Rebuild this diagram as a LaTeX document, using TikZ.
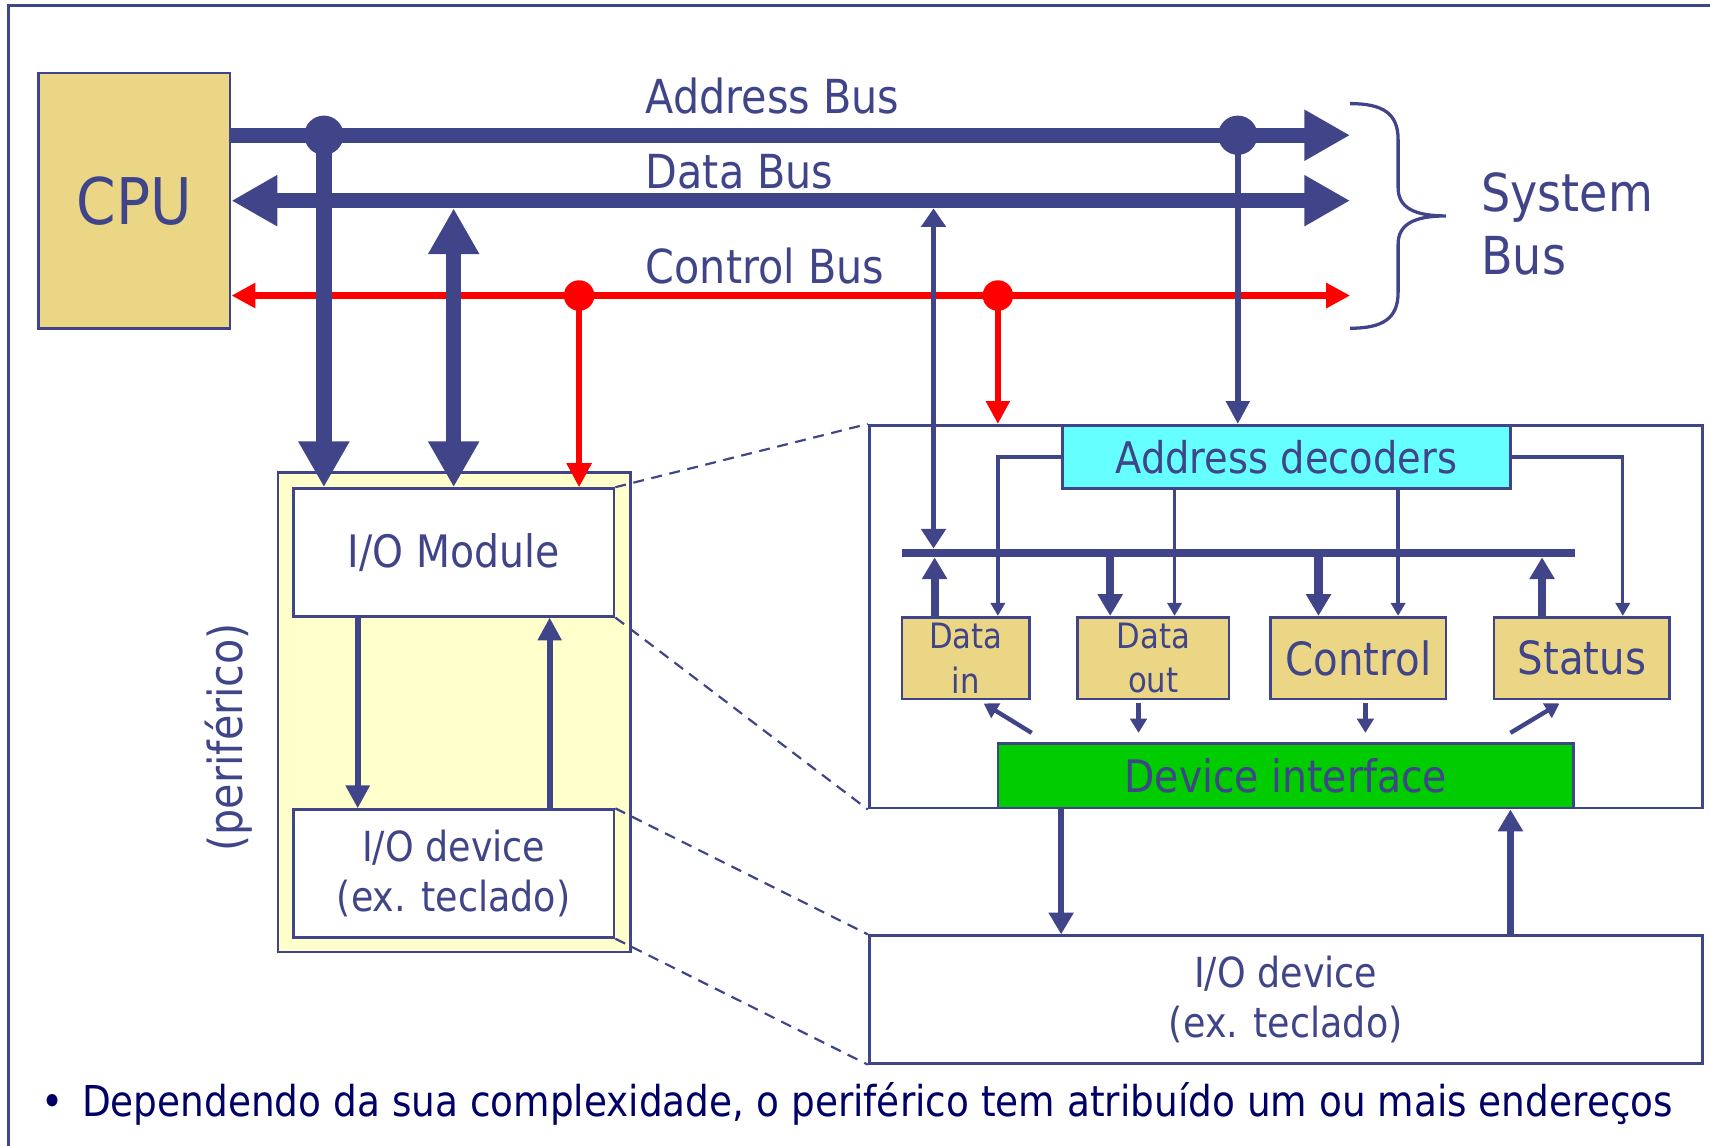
\documentclass[tikz,border=0pt]{standalone}
\usepackage{fontspec}
\setmainfont{DejaVu Sans}[FakeStretch=0.88]
\usetikzlibrary{arrows.meta}
\definecolor{ibl}{RGB}{64,68,137}
\definecolor{cpuy}{RGB}{235,214,134}
\definecolor{pery}{RGB}{255,255,204}
\definecolor{decc}{RGB}{102,255,255}
\definecolor{dig}{RGB}{0,204,0}
\definecolor{navyt}{RGB}{0,0,102}
\newcommand{\fsz}[2]{\fontsize{#1pt}{#2pt}\selectfont}
\tikzset{
  TBig/.tip={Triangle[length=42pt,width=44pt]},
  TRed/.tip={Triangle[length=22pt,width=22pt]},
  TMid/.tip={Triangle[length=20pt,width=22pt]},
  TSm/.tip={Triangle[length=12pt,width=13pt]},
  TDi/.tip={Triangle[length=13pt,width=15pt]},
}
\begin{document}
\begin{tikzpicture}[x=1pt,y=-1pt,
  bx/.style={draw=ibl, line width=2.5pt, inner sep=0pt, text=ibl, align=center},
  fatbus/.style={draw=ibl, line width=14pt},
  redbus/.style={draw=red, line width=7pt},
  redthin/.style={draw=red, line width=5pt},
  thinbus/.style={draw=ibl, line width=5pt},
  regbus/.style={draw=ibl, line width=7.5pt},
  decline/.style={draw=ibl, line width=3pt},
  diline/.style={draw=ibl, line width=4pt},
  zoomline/.style={draw=ibl, line width=2pt, dash pattern=on 10pt off 7pt},
  bdot/.style={circle, fill=ibl, inner sep=0pt, minimum size=36pt},
  rdot/.style={circle, fill=red, inner sep=0pt, minimum size=28pt},
  lbl/.style={text=ibl, inner sep=0pt},
]
\useasboundingbox (0,0) rectangle (1568,1050);

% outer frame
\draw[ibl, line width=2.5pt] (8,1060) -- (8,5) -- (1580,5);

% CPU
\node[bx, fill=cpuy, minimum width=176pt, minimum height=234pt, font=\fsz{59}{64}] (cpu) at (123,184) {CPU};

% peripheral
\node[bx, fill=pery, minimum width=323pt, minimum height=440pt] (per) at (416.5,653) {};
\node[bx, fill=white, minimum width=294pt, minimum height=117pt, font=\fsz{41}{48}] (iom) at (416,506.5) {I/O Module};
\node[bx, fill=white, minimum width=294pt, minimum height=117pt, font=\fsz{38}{46}] (iod) at (416,801) {I/O device\\(ex. teclado)};
\node[lbl, rotate=90, font=\fsz{43}{50}] (perl) at (210,676) {(periférico)};

% detail box
\node[bx, fill=white, minimum width=764pt, minimum height=351pt] (det) at (1179,565.5) {};
\node[bx, fill=decc, minimum width=411pt, minimum height=58pt, font=\fsz{40}{46}] (dec) at (1179.5,419) {Address decoders};
\node[bx, fill=cpuy, minimum width=117pt, minimum height=75pt, font=\fsz{32}{41}] (din) at (885.5,603.5) {Data\\in};
\node[bx, fill=cpuy, minimum width=139pt, minimum height=75pt, font=\fsz{32}{41}] (dout) at (1057.5,603.5) {Data\\out};
\node[bx, fill=cpuy, minimum width=161pt, minimum height=75pt, font=\fsz{42}{48}] (ctl) at (1245.5,603.5) {Control};
\node[bx, fill=cpuy, minimum width=161pt, minimum height=75pt, font=\fsz{42}{48}] (sta) at (1450.5,603.5) {Status};
\node[bx, fill=dig, minimum width=528pt, minimum height=59pt, font=\fsz{41}{48}] (di) at (1179,711.5) {Device interface};
\node[bx, fill=white, minimum width=764pt, minimum height=117pt, font=\fsz{38}{46}] (iod2) at (1179,916.5) {I/O device\\(ex. teclado)};

% dashed zoom lines
\draw[zoomline] (iom.north east) -- (det.north west);
\draw[zoomline] (iom.south east) -- (det.south west);
\draw[zoomline] (iod.north east) -- (iod2.north west);
\draw[zoomline] (iod.south east) -- (iod2.south west);

% bus ends
\coordinate (abE) at (1238,124);
\coordinate (dbE) at (1238,184);
\coordinate (cbE) at (1238,271);

% system buses
\draw[fatbus, -{TBig}] (cpu.east |- abE) -- (abE);
\draw[fatbus, {TBig}-{TBig}] (cpu.east |- dbE) -- (dbE);
\draw[redbus, {TRed}-{TRed}] (cpu.east |- cbE) -- (cbE);

% labels
\node[lbl, anchor=base west, font=\fsz{43}{50}] (abl) at (592,104) {Address Bus};
\node[lbl, anchor=base west, font=\fsz{43}{50}] (dbl) at (592,173) {Data Bus};
\node[lbl, anchor=base west, font=\fsz{43}{50}] (cbl) at (592,260) {Control Bus};

% brace
\draw[ibl, line width=3pt] (1238,95) .. controls (1268,95) and (1282,104) .. (1282,128) -- (1282,172)
  .. controls (1282,190) and (1296,198) .. (1326,198)
  .. controls (1296,198) and (1282,206) .. (1282,224) -- (1282,268)
  .. controls (1282,292) and (1268,301) .. (1238,301);
\node[lbl, anchor=base west, font=\fsz{48}{58}] (sbl1) at (1358,194) {System};
\node[lbl, anchor=base west, font=\fsz{48}{58}] (sbl2) at (1358,252) {Bus};

% left-side connections
\node[bdot] (ja1) at (297,124) {};
\node[bdot] (ja2) at (1135,124) {};
\node[rdot] (jc1) at (531,271) {};
\node[rdot] (jc2) at (915,271) {};
\coordinate (db1) at (416,191);
\draw[fatbus, -{TBig}] (ja1.center) -- (ja1 |- iom.north);
\draw[fatbus, {TBig}-{TBig}] (db1) -- (db1 |- iom.north);
\draw[redthin, -{TRed}] (jc1.center) -- (jc1 |- iom.north);

% iom <-> iod
\coordinate (xl1) at (328,0);
\coordinate (xl2) at (504,0);
\draw[thinbus, line width=5.5pt, -{Triangle[length=21pt,width=21pt]}] (xl1 |- iom.south) -- (xl1 |- iod.north);
\draw[thinbus, line width=5.5pt, -{Triangle[length=21pt,width=21pt]}] (xl2 |- iod.north) -- (xl2 |- iom.south);

% right-side connections
\coordinate (db2) at (856,191);
\coordinate (ibT) at (856,503);
\draw[thinbus, {Triangle[length=17pt,width=22pt]}-{Triangle[length=18pt,width=22pt]}] (db2) -- (ibT);
\draw[redthin, -{Triangle[length=21pt,width=21pt]}] (jc2.center) -- (jc2 |- det.north);
\draw[thinbus, -{Triangle[length=21pt,width=21pt]}] (ja2.center) -- (ja2 |- det.north);

% internal bus
\coordinate (ibW) at (827,507);
\coordinate (ibE) at (1444,507);
\draw[ibl, line width=8pt] (ibW) -- (ibE);
\coordinate (ibB) at (0,511);
\coordinate (x1) at (857,0);
\coordinate (x2) at (1018,0);
\coordinate (x3) at (1209,0);
\coordinate (x4) at (1414,0);
\draw[regbus, -{TMid}] (x1 |- din.north) -- (x1 |- ibB);
\draw[regbus, -{TMid}] (x2 |- ibB) -- (x2 |- dout.north);
\draw[regbus, -{TMid}] (x3 |- ibB) -- (x3 |- ctl.north);
\draw[regbus, -{TMid}] (x4 |- sta.north) -- (x4 |- ibB);

% decoder lines
\coordinate (d1) at (915,0);
\coordinate (d2) at (1077,0);
\coordinate (d3) at (1282,0);
\coordinate (d4) at (1488,0);
\draw[decline, -{TSm}] (dec.west) -| (d1 |- din.north);
\draw[decline, -{TSm}] (d2 |- dec.south) -- (d2 |- dout.north);
\draw[decline, -{TSm}] (d3 |- dec.south) -- (d3 |- ctl.north);
\draw[decline, -{TSm}] (dec.east) -| (d4 |- sta.north);

% register <-> device interface
\coordinate (a1s) at (946,672);
\coordinate (a1e) at (902,645);
\coordinate (a2s) at (1044,645);
\coordinate (a2e) at (1044,672);
\coordinate (a3s) at (1252,645);
\coordinate (a3e) at (1252,672);
\coordinate (a4s) at (1385,672);
\coordinate (a4e) at (1430,645);
\draw[diline, -{TDi}] (a1s) -- (a1e);
\draw[diline, -{TDi}] (a2s) -- (a2e);
\draw[diline, -{TDi}] (a3s) -- (a3e);
\draw[diline, -{TDi}] (a4s) -- (a4e);

% device interface <-> I/O device
\coordinate (y1) at (973,0);
\coordinate (y2) at (1385,0);
\draw[thinbus, line width=6pt, -{TMid}] (y1 |- di.south) -- (y1 |- iod2.north);
\draw[thinbus, line width=6pt, -{TMid}] (y2 |- iod2.north) -- (y2 |- di.south);

% bullet text
\node[anchor=base west, inner sep=0pt, text=navyt, font=\fsz{39}{46}] (bul) at (38,1024) {•};
\node[anchor=base west, inner sep=0pt, text=navyt, font=\fsz{39}{46}] (btx) at (75,1024) {Dependendo da sua complexidade, o periférico tem atribuído um ou mais endereços};
\end{tikzpicture}
\end{document}
